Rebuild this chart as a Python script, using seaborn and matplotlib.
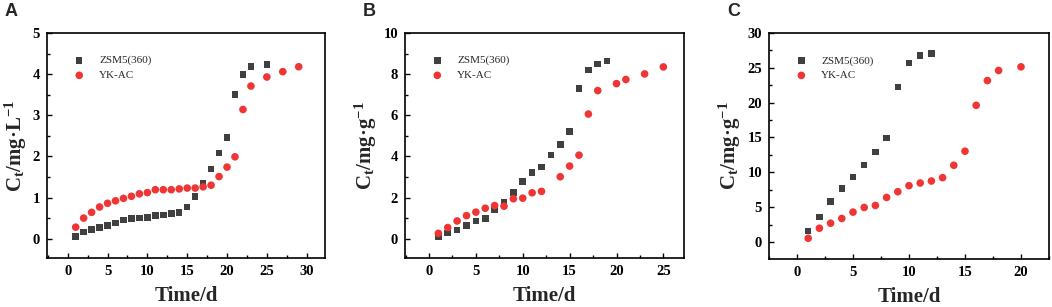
import matplotlib
matplotlib.use("Agg")
import matplotlib.pyplot as plt
import seaborn as sns
import pandas as pd
from matplotlib.ticker import MultipleLocator, AutoMinorLocator

sns.set_theme(style="ticks")
plt.rcParams['font.family'] = ['Liberation Serif', 'DejaVu Serif']
plt.rcParams['font.weight'] = 'bold'
plt.rcParams['mathtext.fontset'] = 'custom'
plt.rcParams['mathtext.rm'] = 'Liberation Serif:bold'
plt.rcParams['mathtext.it'] = 'Liberation Serif:bold'
plt.rcParams['mathtext.bf'] = 'Liberation Serif:bold'

# Panel A
a_zsm_x = [1, 2, 3, 4, 5, 6, 7, 8, 9, 10, 11, 12, 13, 14, 15, 16, 17, 18, 19, 20, 21, 22, 23, 25]
a_zsm_y = [0.05, 0.16, 0.22, 0.27, 0.32, 0.38, 0.45, 0.49, 0.50, 0.52, 0.56, 0.58, 0.61, 0.64,
           0.77, 1.03, 1.34, 1.69, 2.08, 2.46, 3.50, 3.99, 4.18, 4.23]
a_yk_x = [1, 2, 3, 4, 5, 6, 7, 8, 9, 10, 11, 12, 13, 14, 15, 16, 17, 18, 19, 20, 21, 22, 23, 25, 27, 29]
a_yk_y = [0.28, 0.50, 0.64, 0.77, 0.86, 0.92, 0.98, 1.03, 1.09, 1.12, 1.19, 1.19, 1.19, 1.21,
          1.23, 1.23, 1.26, 1.30, 1.51, 1.74, 1.99, 3.14, 3.71, 3.93, 4.06, 4.18]

# Panel B
b_zsm_x = [1, 2, 3, 4, 5, 6, 7, 8, 9, 10, 11, 12, 13, 14, 15, 16, 17, 18, 19]
b_zsm_y = [0.07, 0.28, 0.42, 0.65, 0.86, 0.99, 1.43, 1.79, 2.25, 2.77, 3.22, 3.49, 4.07, 4.59,
           5.20, 7.30, 8.19, 8.49, 8.65]
b_yk_x = [1, 2, 3, 4, 5, 6, 7, 8, 9, 10, 11, 12, 14, 15, 16, 17, 18, 20, 21, 23, 25]
b_yk_y = [0.26, 0.54, 0.86, 1.12, 1.29, 1.48, 1.61, 1.58, 1.94, 1.97, 2.23, 2.30, 3.01, 3.53,
          4.06, 6.06, 7.20, 7.54, 7.74, 8.01, 8.35]

# Panel C
c_zsm_x = [1, 2, 3, 4, 5, 6, 7, 8, 9, 10, 11, 12]
c_zsm_y = [1.59, 3.61, 5.77, 7.64, 9.33, 11.06, 12.93, 14.90, 22.26, 25.67, 26.78, 27.02]
c_yk_x = [1, 2, 3, 4, 5, 6, 7, 8, 9, 10, 11, 12, 13, 14, 15, 16, 17, 18, 20]
c_yk_y = [0.53, 1.97, 2.69, 3.37, 4.28, 4.95, 5.24, 6.39, 7.21, 8.08, 8.46, 8.75, 9.23, 11.01,
          13.03, 19.62, 23.17, 24.62, 25.14]

series_names = ["ZSM5(360)", "YK-AC"]
panel_letters = ["A", "B", "C"]
y_labels = ["C$_\\mathrm{t}$/mg·L$^{\\mathrm{-1}}$",
            "C$_\\mathrm{t}$/mg·g$^{\\mathrm{-1}}$",
            "C$_\\mathrm{t}$/mg·g$^{\\mathrm{-1}}$"]
x_label = "Time/d"

zsm_color = "#404040"
yk_color = "#f03535"

fig = plt.figure(figsize=(10.52, 3.07), dpi=100)
boxes = [
    [47, 33, 325, 258],
    [405, 33, 684, 258],
    [769, 33, 1049, 259],
]
W, H = 1052, 307
panels = [
    dict(zx=a_zsm_x, zy=a_zsm_y, yx=a_yk_x, yy=a_yk_y, xlim=(-2.6, 32.3), ylim=(-0.47, 5),
         xmaj=5, ymaj=1),
    dict(zx=b_zsm_x, zy=b_zsm_y, yx=b_yk_x, yy=b_yk_y, xlim=(-2.56, 27.2), ylim=(-0.94, 10),
         xmaj=5, ymaj=2),
    dict(zx=c_zsm_x, zy=c_zsm_y, yx=c_yk_x, yy=c_yk_y, xlim=(-2.5, 22.5), ylim=(-2.45, 30),
         xmaj=5, ymaj=5),
]

for i, (p, b) in enumerate(zip(panels, boxes)):
    l, t, r, bt = b
    ax = fig.add_axes([l / W, 1 - bt / H, (r - l) / W, (bt - t) / H])
    dz = pd.DataFrame({"x": p["zx"], "y": p["zy"]})
    dy = pd.DataFrame({"x": p["yx"], "y": p["yy"]})
    sns.scatterplot(data=dz, x="x", y="y", marker="s", s=22, color=zsm_color,
                    edgecolor="none", label=series_names[0], ax=ax, zorder=3)
    sns.scatterplot(data=dy, x="x", y="y", marker="o", s=30, color=yk_color,
                    edgecolor="none", label=series_names[1], ax=ax, zorder=3)
    ax.set_xlim(*p["xlim"])
    ax.set_ylim(*p["ylim"])
    ax.xaxis.set_major_locator(MultipleLocator(p["xmaj"]))
    ax.yaxis.set_major_locator(MultipleLocator(p["ymaj"]))
    ax.xaxis.set_minor_locator(AutoMinorLocator(2))
    ax.yaxis.set_minor_locator(AutoMinorLocator(2))
    ax.tick_params(which="both", direction="in", top=False, right=False, width=1, colors="black")
    ax.tick_params(which="major", length=3.5, labelsize=10.5, pad=5)
    ax.tick_params(which="minor", length=2)
    for sp in ax.spines.values():
        sp.set_visible(True)
        sp.set_linewidth(1.2)
        sp.set_color("black")
    ax.set_xlabel(x_label, fontsize=15, fontweight="bold", labelpad=6)
    ax.set_ylabel(y_labels[i], fontsize=15, fontweight="bold", labelpad=3)
    ax.legend(loc="upper left", bbox_to_anchor=(0.06, 0.92), frameon=False,
              prop={"family": "Liberation Serif", "weight": "normal", "size": 8},
              handletextpad=0.8, labelspacing=0.45, borderaxespad=0, markerscale=1.0)
    fig.text((l - 42) / W, 1 - 12 / H, panel_letters[i], fontsize=13, fontweight="bold",
             family="Liberation Sans", va="center", ha="left")

fig.savefig("out.png", dpi=100)
